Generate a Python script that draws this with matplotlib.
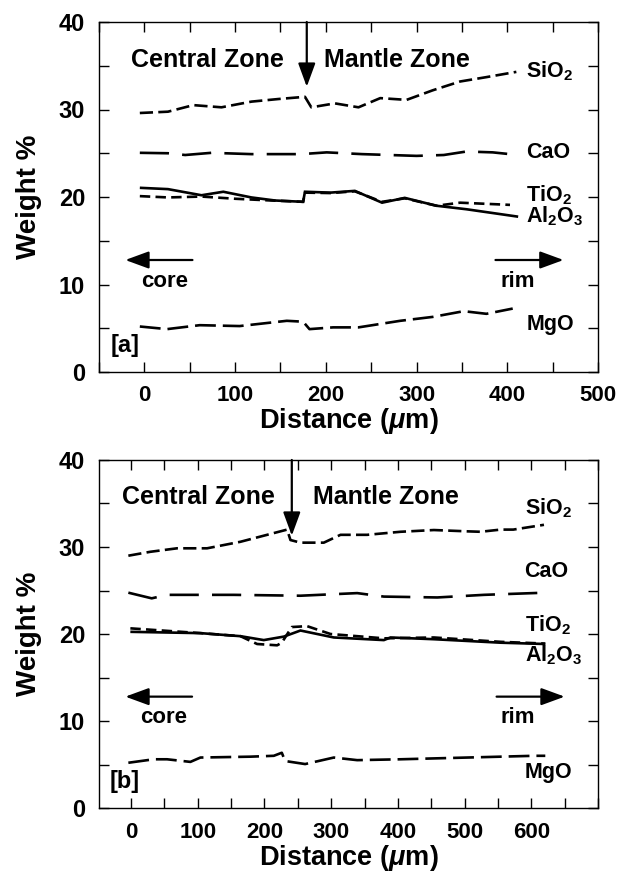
import matplotlib
matplotlib.use("Agg")
import matplotlib.pyplot as plt
from matplotlib.ticker import MultipleLocator

plt.rcParams['font.family'] = ['Liberation Sans', 'DejaVu Sans']
plt.rcParams['font.weight'] = 'bold'
plt.rcParams['mathtext.fontset'] = 'custom'
plt.rcParams['mathtext.rm'] = 'Liberation Sans:bold'
plt.rcParams['mathtext.bf'] = 'Liberation Sans:bold'
plt.rcParams['mathtext.it'] = 'Liberation Sans:bold:italic'
plt.rcParams['mathtext.default'] = 'rm'
plt.rcParams['lines.scale_dashes'] = False

# ---------------- data: panel [a] ----------------
a_sio2_x = [-5, 26, 54, 85, 118, 148, 177, 184, 210, 236, 260, 289, 318, 348, 377, 410]
a_sio2 = [29.6, 29.75, 30.5, 30.25, 30.9, 31.2, 31.45, 30.25, 30.7, 30.25, 31.3, 31.1, 32.2, 33.2, 33.7, 34.3]
a_cao_x = [-5, 26, 45, 74, 118, 173, 201, 240, 300, 330, 355, 384, 412]
a_cao = [25.05, 25.0, 24.8, 25.05, 24.9, 24.9, 25.1, 24.9, 24.7, 24.8, 25.2, 25.1, 24.8]
a_tio2_x = [-5, 26, 63, 100, 140, 175, 177, 205, 232, 262, 287, 322, 348, 403]
a_tio2 = [20.1, 19.95, 20.05, 19.8, 19.6, 19.45, 20.5, 20.45, 20.65, 19.45, 19.85, 19.0, 19.35, 19.1]
a_al2o3_x = [-5, 26, 63, 87, 118, 144, 175, 177, 205, 232, 262, 287, 322, 355, 412]
a_al2o3 = [21.05, 20.9, 20.2, 20.6, 19.95, 19.6, 19.45, 20.6, 20.5, 20.7, 19.35, 19.9, 19.0, 18.6, 17.75]
a_mgo_x = [-5, 25, 61, 105, 157, 175, 182, 208, 236, 282, 318, 352, 377, 406]
a_mgo = [5.2, 4.9, 5.35, 5.25, 5.85, 5.75, 4.9, 5.1, 5.1, 5.85, 6.3, 6.95, 6.65, 7.25]
a_xticks = [0, 100, 200, 300, 400, 500]
a_xticklabels = ['0', '100', '200', '300', '400', '500']

# ---------------- data: panel [b] ----------------
b_sio2_x = [-4, 29, 69, 114, 164, 204, 234, 239, 254, 289, 314, 354, 404, 454, 504, 524, 554, 573, 619]
b_sio2 = [29.0, 29.45, 29.85, 29.85, 30.6, 31.4, 32.0, 30.8, 30.5, 30.5, 31.4, 31.4, 31.75, 31.95, 31.8, 31.75, 32.0, 32.0, 32.55]
b_cao_x = [-4, 31, 54, 154, 254, 339, 379, 459, 529, 621]
b_cao = [24.75, 24.1, 24.5, 24.5, 24.4, 24.7, 24.3, 24.2, 24.5, 24.75]
b_tio2_x = [-1, 104, 164, 189, 219, 226, 241, 264, 299, 379, 454, 554, 621]
b_tio2 = [20.65, 20.1, 19.75, 18.85, 18.7, 19.0, 20.8, 20.9, 20.0, 19.5, 19.6, 19.1, 18.9]
b_al2o3_x = [-1, 104, 164, 199, 229, 254, 304, 379, 389, 454, 554, 621]
b_al2o3 = [20.25, 20.1, 19.75, 19.3, 19.7, 20.4, 19.6, 19.3, 19.6, 19.4, 19.0, 18.85]
b_mgo_x = [-4, 34, 54, 89, 104, 179, 214, 226, 231, 261, 304, 339, 404, 454, 554, 604, 621]
b_mgo = [5.2, 5.6, 5.6, 5.3, 5.8, 5.9, 6.0, 6.35, 5.4, 5.05, 5.8, 5.5, 5.6, 5.7, 5.9, 6.0, 6.0]
b_xticks = [0, 100, 200, 300, 400, 500, 600, 700]
b_xticklabels = ['0', '100', '200', '300', '400', '500', '600', '']

yticks = [0, 10, 20, 30, 40]
yticklabels = ['0', '10', '20', '30', '40']
oxide_labels = ['SiO$_2$', 'CaO', 'TiO$_2$', 'Al$_2$O$_3$', 'MgO']
x_label = 'Distance ($\\mathit{\\mu}$m)'
y_label = 'Weight %'

LW = 1.9
styles = {
    'sio2': dict(dashes=(9.5, 3.8)),
    'cao': dict(dashes=(21, 9.5)),
    'tio2': dict(dashes=(7.5, 3.8)),
    'al2o3': dict(linestyle='-'),
    'mgo': dict(dashes=(15, 5)),
}

fig = plt.figure(figsize=(6.17, 8.73), dpi=100)
ax_a = fig.add_axes([99 / 617, 1 - 372 / 873, 499 / 617, 350 / 873])
ax_b = fig.add_axes([99 / 617, 1 - 808 / 873, 499 / 617, 348 / 873])

arrow_kw = dict(arrowstyle='-|>,head_length=0.6,head_width=0.22', mutation_scale=24,
                lw=1.6, color='k', shrinkA=0, shrinkB=0)


def draw_panel(ax, data, xlim, xticks, xticklabels, cfg):
    for key, (xs, ys) in data.items():
        ax.plot(xs, ys, color='k', lw=LW, solid_capstyle='butt',
                dash_capstyle='butt', solid_joinstyle='miter', **styles[key])
    ax.set_xlim(*xlim)
    ax.set_ylim(0, 40)
    ax.set_xticks(xticks, xticklabels)
    ax.set_yticks(yticks, yticklabels)
    ax.xaxis.set_minor_locator(MultipleLocator(50))
    ax.yaxis.set_minor_locator(MultipleLocator(5))
    ax.tick_params(which='both', direction='in', top=True, right=True,
                   length=7, width=1.0)
    ax.tick_params(axis='x', which='major', labelsize=16, pad=cfg['xpad'])
    ax.tick_params(axis='y', which='major', labelsize=17, pad=10)
    for lab in ax.get_xticklabels() + ax.get_yticklabels():
        lab.set_fontweight('bold')
    for s in ax.spines.values():
        s.set_linewidth(1.0)
    ax.set_xlabel(x_label, fontsize=cfg['xlabsize'], fontweight='bold', labelpad=cfg['xlabpad'])
    ax.set_ylabel(y_label, fontsize=20, fontweight='bold', labelpad=12)

    # zone labels and boundary arrow
    ax.text(cfg['central_x'], 34.9, 'Central Zone', fontsize=18, ha='left', va='baseline')
    ax.text(cfg['mantle_x'], 34.9, 'Mantle Zone', fontsize=18, ha='left', va='baseline')
    ax.annotate('', xy=(cfg['bound_x'], cfg['bound_tip']), xytext=(cfg['bound_x'], 40),
                arrowprops=arrow_kw, annotation_clip=False)
    # core / rim arrows
    ax.annotate('', xy=(cfg['core'][0], cfg['core_y']), xytext=(cfg['core'][1], cfg['core_y']),
                arrowprops=arrow_kw)
    ax.annotate('', xy=(cfg['rim'][1], cfg['core_y']), xytext=(cfg['rim'][0], cfg['core_y']),
                arrowprops=arrow_kw)
    ax.text(cfg['core_tx'], 9.75, 'core', fontsize=16, ha='center', va='baseline')
    ax.text(cfg['rim_tx'], 9.75, 'rim', fontsize=16, ha='center', va='baseline')
    ax.text(cfg['panel_x'], 3.0, cfg['panel'], fontsize=17, ha='center', va='center')
    # oxide labels
    for lab, yb in zip(oxide_labels, cfg['lab_y']):
        ax.text(cfg['lab_x'], yb, lab, fontsize=15.5, ha='left', va='baseline')


draw_panel(ax_a,
           {'sio2': (a_sio2_x, a_sio2), 'cao': (a_cao_x, a_cao), 'tio2': (a_tio2_x, a_tio2),
            'al2o3': (a_al2o3_x, a_al2o3), 'mgo': (a_mgo_x, a_mgo)},
           (-50, 500), a_xticks, a_xticklabels,
           dict(central_x=-15, mantle_x=198, bound_x=179, bound_tip=32.6,
                core=(-21, 53), rim=(387, 462), core_y=12.8,
                core_tx=22, rim_tx=412, panel='[a]', panel_x=-21,
                lab_x=421, lab_y=[33.7, 24.4, 19.55, 17.05, 4.8],
                xpad=9, xlabpad=0.5, xlabsize=19.5))

draw_panel(ax_b,
           {'sio2': (b_sio2_x, b_sio2), 'cao': (b_cao_x, b_cao), 'tio2': (b_tio2_x, b_tio2),
            'al2o3': (b_al2o3_x, b_al2o3), 'mgo': (b_mgo_x, b_mgo)},
           (-48, 700), b_xticks, b_xticklabels,
           dict(central_x=-13, mantle_x=273, bound_x=241, bound_tip=31.3,
                core=(-8.5, 91.5), rim=(548, 650), core_y=12.8,
                core_tx=48.6, rim_tx=579.5, panel='[b]', panel_x=-10,
                lab_x=590, lab_y=[33.7, 26.5, 20.26, 16.8, 3.4],
                xpad=10, xlabpad=0, xlabsize=19.5))

fig.savefig('out.png', dpi=100)
